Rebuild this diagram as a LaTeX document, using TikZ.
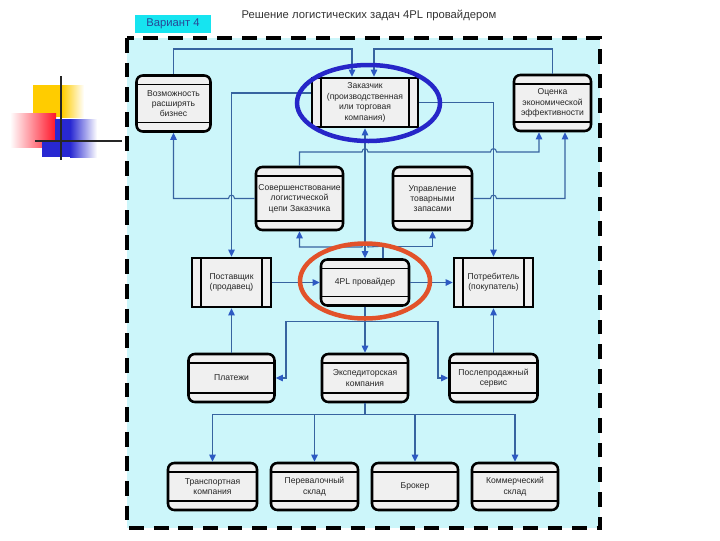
\documentclass[tikz,border=0pt]{standalone}
\usepackage{fontspec}
\setmainfont{Liberation Sans}
\usetikzlibrary{arrows.meta, calc}

\definecolor{bgcyan}{RGB}{204,246,250}
\definecolor{boxfill}{RGB}{240,240,240}
\definecolor{linkblue}{RGB}{55,100,160}
\definecolor{tipblue}{RGB}{45,90,195}
\definecolor{ellblue}{RGB}{38,38,200}
\definecolor{ellred}{RGB}{226,82,42}
\definecolor{tabcyan}{RGB}{22,228,240}
\definecolor{tabtext}{RGB}{40,70,150}
\definecolor{decoyellow}{RGB}{255,204,0}
\definecolor{decored}{RGB}{255,20,40}
\definecolor{decoblue}{RGB}{40,40,210}

\begin{document}
\begin{tikzpicture}[
    x=0.025cm, y=-0.025cm,
    >={Triangle[length=5pt, width=4.6pt, color=tipblue]},
    conn/.style  = {line width=0.75pt, linkblue, ->},
    frame/.style = {line width=2.4pt, dash pattern=on 10.5pt off 7pt, fill=bgcyan},
    dim/.style 2 args = {minimum width=#1*0.025cm, minimum height=#2*0.025cm},
    box/.style   = {draw, line width=1.8pt, fill=boxfill, rounded corners=4.5pt,
                    align=center, inner sep=0pt, text=black!85,
                    font=\fontsize{6.1}{7.4}\selectfont,
                    path picture={
                      \draw[line width=1.3pt]
                        ([yshift=-6.4pt]path picture bounding box.north west) --
                        ([yshift=-6.4pt]path picture bounding box.north east)
                        ([yshift=6.4pt]path picture bounding box.south west) --
                        ([yshift=6.4pt]path picture bounding box.south east);
                    }},
    proc/.style  = {draw, line width=1.8pt, fill=boxfill,
                    align=center, inner sep=0pt, text=black!85,
                    font=\fontsize{6.1}{7.4}\selectfont,
                    path picture={
                      \draw[line width=1.3pt]
                        ([xshift=6.4pt]path picture bounding box.north west) --
                        ([xshift=6.4pt]path picture bounding box.south west)
                        ([xshift=-6.4pt]path picture bounding box.north east) --
                        ([xshift=-6.4pt]path picture bounding box.south east);
                    }},
    ring/.style  = {line width=3.2pt},
  ]

  \useasboundingbox (0,0) rectangle (720,540);

  % --- slide ornament at the left ------------------------------------------
  \fill[decoyellow] (33,85) rectangle (62,117);
  \shade[left color=decoyellow, right color=white] (62,85) rectangle (84,117);
  \shade[left color=white, right color=decored] (10,113) rectangle (56,147);
  \fill[decoblue] (42,140) rectangle (70,157);
  \fill[decoblue] (55,119) rectangle (70,157);
  \shade[left color=decoblue, right color=white] (70,119) rectangle (97,157);
  \draw[line width=1.6pt, black!85] (61,76) -- (61,160);
  \draw[line width=1.6pt, black!85] (35,141) -- (122,141);

  % --- heading -------------------------------------------------------------
  \node[fill=tabcyan, text=tabtext, dim={76}{18}, inner sep=0pt,
        font=\fontsize{8}{9}\selectfont] (variant) at (173,24) {Вариант 4};
  \node[text=black!80, font=\fontsize{8}{9}\selectfont] (title) at (369,15)
    {Решение логистических задач 4PL провайдером};

  % --- dashed frame --------------------------------------------------------
  \draw[frame] (127,38) rectangle (600,528);

  % --- top row -------------------------------------------------------------
  \node[box, dim={74}{56}]   (vozm)   at (173.5,103.5) {Возможность\\расширять\\бизнес};
  \node[proc, dim={106}{49}] (zakaz)  at (365,102.5)
    {Заказчик\\(производственная\\или торговая\\компания)};
  \node[box, dim={77}{56}]   (ocenka) at (552.5,103) {Оценка\\экономической\\эффективности};

  % --- tasks ---------------------------------------------------------------
  \node[box, dim={87}{63}] (sover) at (299.5,198.5)
    {Совершенствование\\логистической\\цепи Заказчика};
  \node[box, dim={79}{63}] (uprav) at (432.5,198.5) {Управление\\товарными\\запасами};

  % --- supply chain --------------------------------------------------------
  \node[proc, dim={79}{49}] (post) at (231.5,282.5) {Поставщик\\(продавец)};
  \node[box, dim={88}{46}]  (pl4)  at (365,282.5)   {4PL провайдер};
  \node[proc, dim={79}{49}] (potr) at (493.5,282.5) {Потребитель\\(покупатель)};

  % --- services ------------------------------------------------------------
  \node[box, dim={86}{48}] (plat)   at (231.5,378) {Платежи};
  \node[box, dim={86}{48}] (eksp)   at (365,378)   {Экспедиторская\\компания};
  \node[box, dim={88}{48}] (poslep) at (493.5,378) {Послепродажный\\сервис};

  % --- partners of the forwarder -------------------------------------------
  \node[box, dim={89}{47}] (trans)   at (212.5,486.5) {Транспортная\\компания};
  \node[box, dim={87}{47}] (pereval) at (314.5,486.5) {Перевалочный\\склад};
  \node[box, dim={86}{47}] (broker)  at (415,486.5)   {Брокер};
  \node[box, dim={86}{47}] (kommer)  at (515,486.5)   {Коммерческий\\склад};

  % --- into the customer ---------------------------------------------------
  \draw[conn] (vozm.north) |- (352,49) -- ($(zakaz.north)+(-13,0)$);
  \draw[conn] (ocenka.north) |- (374,49) -- ($(zakaz.north)+(9,0)$);

  % --- from the customer ---------------------------------------------------
  \draw[conn] ($(zakaz.west)+(0,-9.5)$) -| (post.north);
  \draw[conn] (zakaz.east) -| (potr.north);
  \draw[conn, <->] (zakaz.south) -- (pl4.north);

  % --- results of the tasks (with line hops) -------------------------------
  \draw[conn] (sover.west) -- (234.5,198.5)
    .. controls (234.5,194) and (228.5,194) .. (228.5,198.5) -| (vozm.south);
  \draw[conn] (uprav.east) -- (490.5,198.5)
    .. controls (490.5,194) and (496.5,194) .. (496.5,198.5)
    -| ($(ocenka.south)+(12.5,0)$);
  \draw[conn] (sover.north) |- (362,152)
    .. controls (362,147.5) and (368,147.5) .. (368,152) -- (490.5,152)
    .. controls (490.5,147.5) and (496.5,147.5) .. (496.5,152)
    -| ($(ocenka.south)+(-13.5,0)$);

  % --- provider to the tasks -----------------------------------------------
  \draw[conn] ($(pl4.north)+(18,0)$) -- ++(0,-12) -- (368,247)
    .. controls (368,242.5) and (362,242.5) .. (362,247) -| (sover.south);
  \draw[conn] ($(pl4.north)+(18,0)$) -- ++(0,-12) -| (uprav.south);

  % --- flow of goods -------------------------------------------------------
  \draw[conn] (post.east) -- (pl4.west);
  \draw[conn] (pl4.east) -- (potr.west);

  % --- provider to the services --------------------------------------------
  \draw[conn] (pl4.south) -- ++(0,14.5) -| (286,378) -- (plat.east);
  \draw[conn] (pl4.south) -- ++(0,14.5) -| (438,378) -- (poslep.west);
  \draw[conn] (pl4.south) -- (eksp.north);
  \draw[conn] (plat.north) -- (post.south);
  \draw[conn] (poslep.north) -- (potr.south);

  % --- forwarder to its partners -------------------------------------------
  \foreach \n in {trans, pereval, broker, kommer}
    \draw[conn] (eksp.south) -- ++(0,11) -| (\n.north);

  % --- highlight rings -----------------------------------------------------
  \draw[ring, ellblue] (368.5,103) ellipse [x radius=71.5, y radius=38];
  \draw[ring, ellred]  (365,281)   ellipse [x radius=65, y radius=37.5];

\end{tikzpicture}
\end{document}
